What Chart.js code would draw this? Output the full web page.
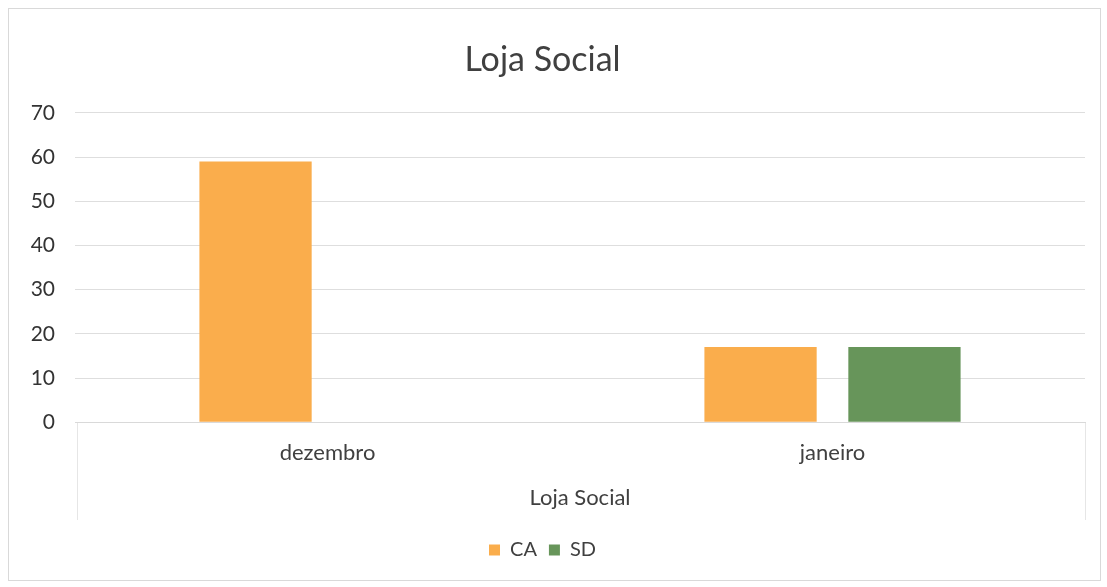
<!DOCTYPE html>
<html>
<head>
<meta charset="utf-8">
<script src="https://cdn.jsdelivr.net/npm/chart.js@4/dist/chart.umd.min.js"></script>
<style>
html,body{margin:0;padding:0;background:#fff;}
#wrap{width:1107px;height:587px;position:relative;}
</style>
</head>
<body>
<div id="wrap"><canvas id="c" width="1107" height="587"></canvas></div>
<script>
const categories = ["dezembro", "janeiro"];
const seriesCA = [59, 17];
const seriesSD = [null, 17];
const yTicks = [0, 10, 20, 30, 40, 50, 60, 70];
const titleText = "Loja Social";
const axisTitle = "Loja Social";

const FONT = "Lato, 'Open Sans', sans-serif";

const frame = {
  id: 'frame',
  beforeDraw(chart) {
    const ctx = chart.ctx;
    ctx.save();
    ctx.fillStyle = '#fff';
    ctx.fillRect(0, 0, chart.width, chart.height);
    ctx.strokeStyle = '#d9d9d9';
    ctx.lineWidth = 1;
    ctx.strokeRect(8.5, 8.5, 1092, 572);
    const a = chart.chartArea;
    ctx.strokeStyle = '#e6e6e6';
    ctx.beginPath();
    ctx.moveTo(a.left + 2.5, a.bottom);
    ctx.lineTo(a.left + 2.5, 520);
    ctx.moveTo(a.right + 0.5, a.bottom);
    ctx.lineTo(a.right + 0.5, 520);
    ctx.stroke();
    ctx.restore();
  }
};

new Chart(document.getElementById('c'), {
  type: 'bar',
  data: {
    labels: categories,
    datasets: [
      { label: 'CA', data: seriesCA, backgroundColor: '#FAAD4C', borderWidth: 0 },
      { label: 'SD', data: seriesSD, backgroundColor: '#67955A', borderWidth: 0 }
    ]
  },
  options: {
    responsive: false,
    animation: false,
    devicePixelRatio: 1,
    datasets: { bar: { barPercentage: 0.78, categoryPercentage: 0.57 } },
    layout: { padding: { left: 0, right: 22, top: 22, bottom: 17 } },
    plugins: {
      title: {
        display: true, text: titleText, color: '#404040',
        font: { family: FONT, size: 34, weight: 'normal' },
        padding: { top: 18, bottom: 32 }
      },
      legend: {
        position: 'bottom',
        labels: {
          color: '#404040', font: { family: FONT, size: 20 },
          boxWidth: 11, boxHeight: 11, padding: 12
        }
      },
      tooltip: { enabled: false }
    },
    scales: {
      x: {
        grid: { display: false, drawTicks: false },
        border: { display: true, color: '#d9d9d9' },
        ticks: { color: '#404040', font: { family: FONT, size: 22 }, padding: 18 },
        title: { display: true, text: axisTitle, color: '#404040',
                 font: { family: FONT, size: 22 }, padding: { top: 0, bottom: 17 } }
      },
      y: {
        min: 0, max: 70,
        afterBuildTicks(scale) { scale.ticks = yTicks.map(v => ({ value: v })); },
        afterFit(scale) { scale.width = 75; },
        grid: { color: '#dedede', lineWidth: 1, drawTicks: false },
        border: { display: false },
        ticks: { color: '#333333', font: { family: FONT, size: 21 }, padding: 20, stepSize: 10 }
      }
    }
  },
  plugins: [frame]
});
</script>
</body>
</html>
